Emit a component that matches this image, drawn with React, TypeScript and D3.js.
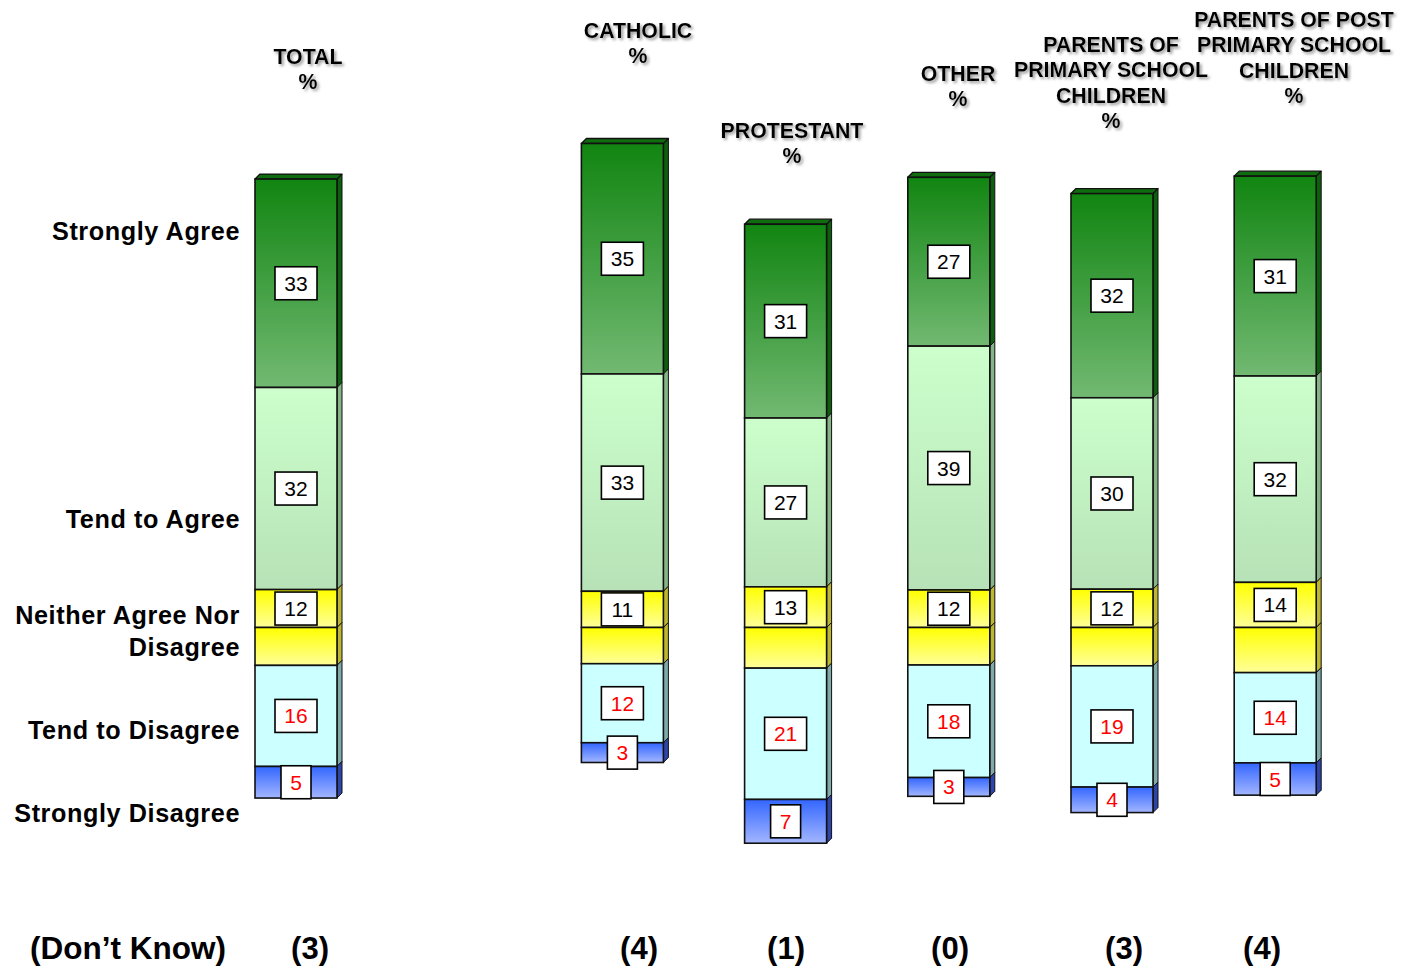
import React from "react";
import * as d3 from "d3";

// ---------- data ----------
const groups = ["TOTAL", "CATHOLIC", "PROTESTANT", "OTHER", "PARENTS OF PRIMARY SCHOOL CHILDREN", "PARENTS OF POST PRIMARY SCHOOL CHILDREN"];
const headerLines = [
  ["TOTAL", "%"],
  ["CATHOLIC", "%"],
  ["PROTESTANT", "%"],
  ["OTHER", "%"],
  ["PARENTS OF", "PRIMARY SCHOOL", "CHILDREN", "%"],
  ["PARENTS OF POST", "PRIMARY SCHOOL", "CHILDREN", "%"],
];
const categories = ["Strongly Agree", "Tend to Agree", "Neither Agree Nor Disagree", "Tend to Disagree", "Strongly Disagree"];
const stronglyAgree = [33, 35, 31, 27, 32, 31];
const tendToAgree = [32, 33, 27, 39, 30, 32];
const neither = [12, 11, 13, 12, 12, 14];
const tendToDisagree = [16, 12, 21, 18, 19, 14];
const stronglyDisagree = [5, 3, 7, 3, 4, 5];
const dontKnow = [3, 4, 1, 0, 3, 4];

// ---------- layout ----------
const W = 1403, H = 970;
const barW = 82, depth = 5, barLen = 619, centerY = 627.5;
const slotIndex = [0, 2, 3, 4, 5, 6];
const headerX = [308, 638, 792, 958, 1111, 1294];
const headerTop = [56, 30, 130, 73, 44, 19];
const dkX = [310, 639, 786, 950, 1124, 1262];
const leftLabelLines = [["Strongly Agree"], ["Tend to Agree"], ["Neither Agree Nor", "Disagree"], ["Tend to Disagree"], ["Strongly Disagree"]];
const leftLabelY = [231, 519, 615, 730, 813];

const xSlot = d3.scaleLinear().domain([0, 1]).range([255, 255 + 163.2]);

type Seg = { key: string; v: number; y0: number; y1: number; label: boolean; red: boolean };

const fills: Record<string, string> = {
  sa: "url(#gSA)",
  ta: "url(#gTA)",
  n1: "url(#gN)",
  n2: "url(#gN)",
  td: "#ccffff",
  sd: "url(#gSD)",
};
const sides: Record<string, string> = {
  sa: "#0d5f0d",
  ta: "#86b486",
  n1: "#bdb630",
  n2: "#bdb630",
  td: "#80aaaa",
  sd: "#2e44a8",
};

export default function App() {
  const bars = groups.map((g, i) => {
    const vals = [stronglyAgree[i], tendToAgree[i], neither[i], tendToDisagree[i], stronglyDisagree[i]];
    const sum = d3.sum(vals);
    const aboveCenter = vals[0] + vals[1] + vals[2] / 2;
    const y = d3.scaleLinear().domain([-aboveCenter, sum - aboveCenter]).range([centerY - barLen * aboveCenter / sum, centerY + barLen * (sum - aboveCenter) / sum]);
    const cuts = [0, vals[0], vals[0] + vals[1], vals[0] + vals[1] + vals[2] / 2, vals[0] + vals[1] + vals[2], vals[0] + vals[1] + vals[2] + vals[3], sum].map((c) => c - aboveCenter);
    const keys = ["sa", "ta", "n1", "n2", "td", "sd"];
    const segVals = [vals[0], vals[1], vals[2], vals[2], vals[3], vals[4]];
    const segs: Seg[] = keys.map((k, j) => ({
      key: k,
      v: segVals[j],
      y0: y(cuts[j]),
      y1: y(cuts[j + 1]),
      label: k !== "n2",
      red: k === "td" || k === "sd",
    }));
    return { g, i, x: xSlot(slotIndex[i]), segs };
  });

  const bold = "'Liberation Sans', Arial, sans-serif";

  return (
    <svg width={W} height={H} style={{ display: "block", position: "absolute", left: 0, top: 0, background: "#fff" }}>
      <defs>
        <linearGradient id="gSA" x1="0" y1="0" x2="0" y2="1">
          <stop offset="0" stopColor="#118511" />
          <stop offset="1" stopColor="#72b972" />
        </linearGradient>
        <linearGradient id="gTA" x1="0" y1="0" x2="0" y2="1">
          <stop offset="0" stopColor="#ccffcc" />
          <stop offset="1" stopColor="#b7e2b7" />
        </linearGradient>
        <linearGradient id="gN" x1="0" y1="0" x2="0" y2="1">
          <stop offset="0" stopColor="#ffff00" />
          <stop offset="1" stopColor="#ffff9a" />
        </linearGradient>
        <linearGradient id="gSD" x1="0" y1="0" x2="0" y2="1">
          <stop offset="0" stopColor="#3366ff" />
          <stop offset="1" stopColor="#a3b6ff" />
        </linearGradient>
        <filter id="shadow" x="-10%" y="-30%" width="130%" height="170%">
          <feDropShadow dx="2" dy="2" stdDeviation="1.4" floodColor="#777" floodOpacity="0.75" />
        </filter>
      </defs>

      {/* headers */}
      {headerLines.map((lines, i) => (
        <g key={"h" + i} filter="url(#shadow)">
          {lines.map((t, j) => (
            <text key={j} x={headerX[i]} y={headerTop[i] + j * 25.5 + 7.5} textAnchor="middle" fontFamily={bold} fontWeight="bold" fontSize={21.3} fill="#000">
              {t}
            </text>
          ))}
        </g>
      ))}

      {/* left labels */}
      {categories.map((c, i) => (
        <g key={c}>
          {leftLabelLines[i].map((t, j) => (
            <text key={j} x={240} y={leftLabelY[i] + j * 32 + 9} textAnchor="end" fontFamily={bold} fontWeight="bold" fontSize={25.2} letterSpacing={0.6} fill="#000">
              {t}
            </text>
          ))}
        </g>
      ))}

      {/* bars */}
      {bars.map((b) => {
        const x0 = b.x, x1 = b.x + barW;
        const top = b.segs[0].y0;
        return (
          <g key={b.g}>
            {b.segs.map((s) => (
              <path key={"s" + s.key} d={`M${x1},${s.y0} L${x1 + depth},${s.y0 - depth} L${x1 + depth},${s.y1 - depth} L${x1},${s.y1} Z`} fill={sides[s.key]} stroke="#111" strokeWidth={1} strokeLinejoin="round" />
            ))}
            <path d={`M${x0},${top} L${x0 + depth},${top - depth} L${x1 + depth},${top - depth} L${x1},${top} Z`} fill="#0f6c0f" stroke="#111" strokeWidth={1.3} strokeLinejoin="round" />
            {b.segs.map((s) => (
              <rect key={"f" + s.key} x={x0} y={s.y0} width={barW} height={s.y1 - s.y0} fill={fills[s.key]} stroke="#111" strokeWidth={1.6} />
            ))}
            {b.segs.filter((s) => s.label).map((s) => {
              const cy = (s.y0 + s.y1) / 2;
              const bw = String(s.v).length > 1 ? 42 : 30;
              const bh = 33;
              return (
                <g key={"l" + s.key}>
                  <rect x={x0 + barW / 2 - bw / 2} y={cy - bh / 2} width={bw} height={bh} fill="#fff" stroke="#000" strokeWidth={1.6} />
                  <text x={x0 + barW / 2} y={cy + 7.5} textAnchor="middle" fontFamily="'Liberation Sans', Arial, sans-serif" fontSize={21} fill={s.red ? "#ff0000" : "#000"}>
                    {s.v}
                  </text>
                </g>
              );
            })}
          </g>
        );
      })}

      {/* don't know row */}
      <text x={128} y={959} textAnchor="middle" fontFamily={bold} fontWeight="bold" fontSize={31.5} fill="#000">
        (Don’t Know)
      </text>
      {dontKnow.map((v, i) => (
        <text key={"dk" + i} x={dkX[i]} y={959} textAnchor="middle" fontFamily={bold} fontWeight="bold" fontSize={31} fill="#000">
          ({v})
        </text>
      ))}
    </svg>
  );
}
